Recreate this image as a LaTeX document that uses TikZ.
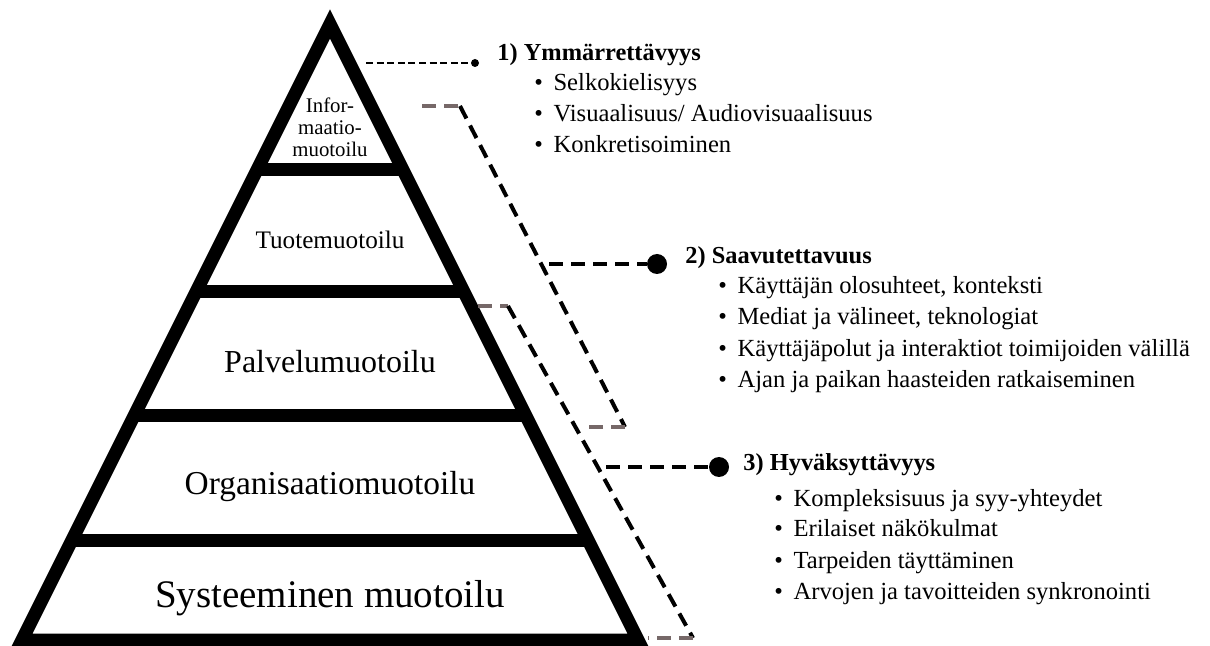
\documentclass[tikz,border=0pt]{standalone}
\usepackage{fontspec}
\setmainfont{Liberation Serif}
\definecolor{bracketgray}{RGB}{118,104,104}
\tikzset{
  pyr/.style={line width=6.5pt, line join=miter},
  sep/.style={line width=6.5pt},
  thindash/.style={line width=1pt, dash pattern=on 3.5pt off 1.8pt},
  thickdash/.style={line width=2pt, dash pattern=on 7pt off 4pt},
  dot/.style={circle, fill=black, inner sep=0pt, minimum size=#1},
  lbl/.style={inner sep=0pt, align=center},
  head/.style={inner sep=0pt, anchor=base west, font=\fontsize{12.2}{14}\selectfont\bfseries},
  item/.style={inner sep=0pt, anchor=base west, font=\fontsize{12.3}{14}\selectfont},
}
\newcommand{\itm}[1]{\makebox[0.78em][l]{\textbullet}#1}
\begin{document}
\begin{tikzpicture}[x=0.5pt, y=-0.5pt]
\useasboundingbox (0,0) rectangle (1210,646);
% pyramid
\draw[pyr] (330,24) -- (638,640) -- (22,640) -- cycle;
\foreach \y in {170,292,416,540}
  \draw[sep] ({330-0.5*(\y-24)},\y) -- ({330+0.5*(\y-24)},\y);
\node[lbl, font=\fontsize{10.4}{11}\selectfont] (info) at (330,127) {Infor-\\maatio-\\muotoilu};
\node[lbl, font=\fontsize{12.6}{14}\selectfont] (tuote) at (330,240) {Tuotemuotoilu};
\node[lbl, font=\fontsize{16}{18}\selectfont] (palvelu) at (330,362) {Palvelumuotoilu};
\node[lbl, font=\fontsize{16.7}{19}\selectfont] (organ) at (330,487) {Organisaatiomuotoilu};
\node[lbl, font=\fontsize{19.5}{22}\selectfont] (system) at (330,598) {Systeeminen muotoilu};
% connector 1
\coordinate (c1) at (366,63);
\node[dot=4pt] (d1) at (475,63) {};
\draw[thindash] (c1) -- (d1);
% bracket 1 and connector 2
\coordinate (b1a) at (422,106);
\coordinate (b1b) at (460,106);
\coordinate (b1c) at (625,427);
\coordinate (b1d) at (585,427);
\draw[thickdash, bracketgray] (b1a) -- (b1b);
\draw[thickdash] (b1b) -- (b1c);
\draw[thickdash, bracketgray] (b1c) -- (b1d);
\coordinate (c2) at (549,264);
\node[dot=10pt] (d2) at (657,264) {};
\draw[thickdash] (c2) -- (d2);
% bracket 2 and connector 3
\coordinate (b2a) at (478,306);
\coordinate (b2b) at (508,306);
\coordinate (b2c) at (693,638);
\coordinate (b2d) at (648,638);
\draw[thickdash, bracketgray] (b2a) -- (b2b);
\draw[thickdash] (b2b) -- (b2c);
\draw[thickdash, bracketgray] (b2c) -- (b2d);
\coordinate (c3) at (606,467);
\node[dot=10pt] (d3) at (719,467) {};
\draw[thickdash] (c3) -- (d3);
% texts
\node[head] (h1) at (497,61) {1) Ymmärrettävyys};
\node[item] (i11) at (534,91) {\itm{Selkokielisyys}};
\node[item] (i12) at (534,122) {\itm{Visuaalisuus/ Audiovisuaalisuus}};
\node[item] (i13) at (534,153) {\itm{Konkretisoiminen}};
\node[head] (h2) at (685,264) {2) Saavutettavuus};
\node[item] (i21) at (718,294) {\itm{Käyttäjän olosuhteet, konteksti}};
\node[item] (i22) at (718,325) {\itm{Mediat ja välineet, teknologiat}};
\node[item] (i23) at (718,357) {\itm{Käyttäjäpolut ja interaktiot toimijoiden välillä}};
\node[item] (i24) at (718,388) {\itm{Ajan ja paikan haasteiden ratkaiseminen}};
\node[head] (h3) at (743,471) {3) Hyväksyttävyys};
\node[item] (i31) at (774,506) {\itm{Kompleksisuus ja syy-yhteydet}};
\node[item] (i32) at (774,537) {\itm{Erilaiset näkökulmat}};
\node[item] (i33) at (774,568) {\itm{Tarpeiden täyttäminen}};
\node[item] (i34) at (774,599) {\itm{Arvojen ja tavoitteiden synkronointi}};
\end{tikzpicture}
\end{document}
